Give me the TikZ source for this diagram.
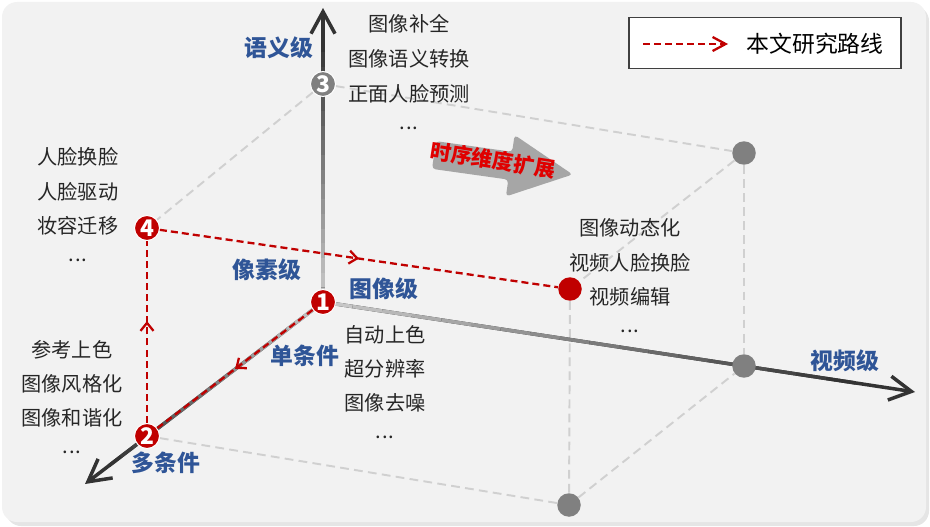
\documentclass[tikz,border=0pt]{standalone}
\usepackage{fontspec}
\setmainfont{Noto Sans CJK SC}
\usetikzlibrary{arrows.meta,calc,decorations.markings}
\pgfdeclarelayer{bg}
\pgfsetlayers{bg,main}
\definecolor{bggray}{HTML}{F2F2F2}
\definecolor{pathred}{HTML}{C00000}
\definecolor{trendred}{HTML}{E00000}
\definecolor{dotgray}{HTML}{808080}
\definecolor{edgegray}{HTML}{D0D0D0}
\definecolor{labelblue}{HTML}{2F5597}
\definecolor{arrowgray}{HTML}{A6A6A6}
\newcommand{\etc}{.\kern0.6pt.\kern0.6pt.}
\tikzset{
  item/.style={font=\fontsize{11.5}{14}\selectfont, text=black!85, inner sep=0pt},
  level/.style={font=\fontsize{13}{16}\selectfont\bfseries, text=labelblue, inner sep=0pt},
  trend/.style={font=\fontsize{12}{14}\selectfont\bfseries, text=trendred, inner sep=0pt, rotate=-9},
  cubeedge/.style={edgegray, line width=1.1pt, dash pattern=on 5pt off 3pt},
  route/.style={pathred, line width=1.3pt, dash pattern=on 4pt off 2.3pt},
  midtip/.style={postaction={decorate}, decoration={markings, mark=at position #1 with {\arrow[pathred]{Straight Barb[length=1.6mm,width=2.6mm]}}}},
  numdot/.style={circle, fill=#1, draw=white, line width=0.6pt, minimum size=0.5cm, inner sep=0pt, text=white, font=\fontsize{13}{13}\selectfont\bfseries},
  plaindot/.style={circle, fill=#1, minimum size=0.47cm, inner sep=0pt},
  axis/.style={black!80, line width=2pt, -{Straight Barb[length=4.4mm,width=4.8mm]}},
}
\begin{document}
\begin{tikzpicture}[x=0.02cm,y=-0.02cm]
  \useasboundingbox (0,0) rectangle (930,527);

  % corners of the cube
  \node[numdot=pathred] (p1) at (323,302) {1};
  \node[numdot=dotgray] (p3) at (323,84) {3};
  \node[numdot=pathred] (p2) at (147,436) {2};
  \node[numdot=pathred] (p4) at (147,228) {4};
  \node[plaindot=pathred] (v1) at (570,289) {};
  \node[plaindot=dotgray] (v2) at (744,153) {};
  \node[plaindot=dotgray] (v3) at (744,366) {};
  \node[plaindot=dotgray] (v4) at (569,505) {};
  \coordinate (ztip) at (323,8);
  \coordinate (xtip) at (915,392);
  \coordinate (ytip) at (85,484);

  \begin{pgfonlayer}{bg}
    \fill[black!10, rounded corners=0.3cm] (6,6) rectangle (929,526);
    \fill[bggray, rounded corners=0.3cm] (2,2) rectangle (926,522);
    % hidden edges
    \draw[cubeedge] (p3) -- (v2);
    \draw[cubeedge] (p3) -- (p4);
    \draw[cubeedge] (v2) -- (v1);
    \draw[cubeedge] (v2) -- (v3);
    \draw[cubeedge] (v1) -- (v4);
    \draw[cubeedge] (p2) -- (v4);
    \draw[cubeedge] (v4) -- (v3);
    % axes, light at the origin
    \foreach \tip in {ztip,xtip,ytip} {
      \draw[axis] (p1.center) -- (\tip);
      \foreach \i [evaluate=\i as \c using int(22+58*\i/17), evaluate=\i as \f using \i/20, evaluate=\i as \g using (\i+1)/20] in {0,...,17}
        \draw[line width=2pt, black!\c] ($(p1.center)!\f!(\tip)$) -- ($(p1.center)!\g!(\tip)$);
    }
  \end{pgfonlayer}

  % route of this work
  \draw[route, midtip=0.5] (p1) -- (p2);
  \draw[route, midtip=0.56] (p2) -- (p4);
  \draw[route, midtip=0.5] (p4) -- (v1);

  % levels
  \node[level] (sem) at (279,48) {语义级};
  \node[level] (pix) at (267,270) {像素级};
  \node[level] (img) at (384,289) {图像级};
  \node[level] (single) at (305,356) {单条件};
  \node[level] (multi) at (166,463) {多条件};
  \node[level] (video) at (845,361) {视频级};

  % tasks
  \foreach \t [count=\k] in {图像补全,图像语义转换,正面人脸预测,\etc}
    \node[item] (top\k) at (409,{24+34.7*(\k-1)}) {\t};
  \foreach \t [count=\k] in {人脸换脸,人脸驱动,妆容迁移,\etc}
    \node[item] (face\k) at (78,{157+34.3*(\k-1)}) {\t};
  \foreach \t [count=\k] in {参考上色,图像风格化,图像和谐化,\etc}
    \node[item] (multi\k) at (72,{350+34*(\k-1)}) {\t};
  \foreach \t [count=\k] in {自动上色,超分辨率,图像去噪,\etc}
    \node[item] (single\k) at (385,{335+34*(\k-1)}) {\t};
  \foreach \t [count=\k] in {图像动态化,视频人脸换脸,视频编辑,\etc}
    \node[item] (video\k) at (630,{228+34.3*(\k-1)}) {\t};

  % temporal extension
  \begin{scope}[shift={(434,155)}, rotate=-8]
    \fill[arrowgray, rounded corners=2pt] (0,-14) -- (77,-14) -- (77,-31) -- (140,0) -- (77,31) -- (77,14) -- (0,14) -- cycle;
  \end{scope}
  \node[trend] (trendtext) at (493,160) {时序维度扩展};

  % legend
  \node[draw=black!75, line width=0.8pt, fill=white, minimum width=5.44cm, minimum height=1.02cm] (legend) at (765,43) {};
  \coordinate (lg1) at (643,44);
  \coordinate (lg2) at (728,44);
  \draw[route, -{Straight Barb[length=2.6mm,width=2.8mm]}] (lg1) -- (lg2);
  \node[font=\fontsize{13}{16}\selectfont, inner sep=0pt] (legtext) at (815,44) {本文研究路线};
\end{tikzpicture}
\end{document}
